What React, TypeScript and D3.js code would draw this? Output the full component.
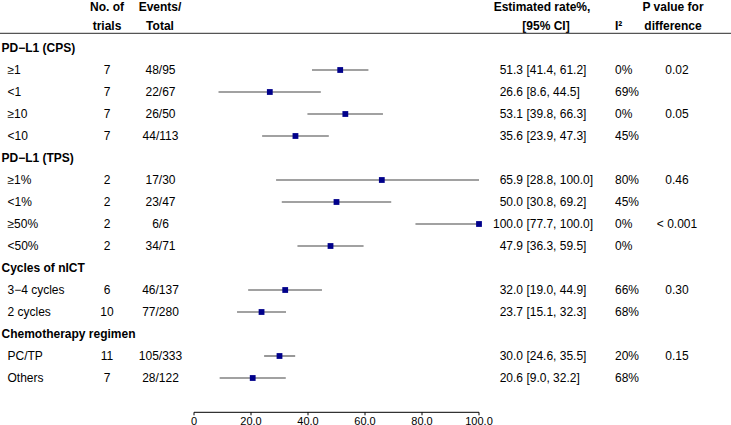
import React from "react";
import * as d3 from "d3";

// ---- data ----
const labels = [
  "PD−L1 (CPS)", "≥1", "<1", "≥10", "<10",
  "PD−L1 (TPS)", "≥1%", "<1%", "≥50%", "<50%",
  "Cycles of nICT", "3−4 cycles", "2 cycles",
  "Chemotherapy regimen", "PC/TP", "Others",
];
const isGroup = [true, false, false, false, false, true, false, false, false, false, true, false, false, true, false, false];
const trials: (number | null)[] = [null, 7, 7, 7, 7, null, 2, 2, 2, 2, null, 6, 10, null, 11, 7];
const events = ["", "48/95", "22/67", "26/50", "44/113", "", "17/30", "23/47", "6/6", "34/71", "", "46/137", "77/280", "", "105/333", "28/122"];
const estimate: (number | null)[] = [null, 51.3, 26.6, 53.1, 35.6, null, 65.9, 50.0, 100.0, 47.9, null, 32.0, 23.7, null, 30.0, 20.6];
const lower: (number | null)[] = [null, 41.4, 8.6, 39.8, 23.9, null, 28.8, 30.8, 77.7, 36.3, null, 19.0, 15.1, null, 24.6, 9.0];
const upper: (number | null)[] = [null, 61.2, 44.5, 66.3, 47.3, null, 100.0, 69.2, 100.0, 59.5, null, 44.9, 32.3, null, 35.5, 32.2];
const i2 = ["", "0%", "69%", "0%", "45%", "", "80%", "45%", "0%", "0%", "", "66%", "68%", "", "20%", "68%"];
const pDiff = ["", "0.02", "", "0.05", "", "", "0.46", "", "< 0.001", "", "", "0.30", "", "", "0.15", ""];
const axisTicks = [0, 20, 40, 60, 80, 100];

const W = 731;
const H = 425;
const FONT = "'Liberation Sans', Arial, Helvetica, sans-serif";

export default function App() {
  const x = d3.scaleLinear().domain([0, 100]).range([194, 479]);
  const idx = labels.map((_, i) => i);
  const y = d3.scalePoint<number>().domain(idx).range([48, 48 + 22 * (labels.length - 1)]);
  const axisY = 412.3;
  const fs = 12;
  const h1 = 6.5;
  const h2 = 26;

  return (
    <svg
      width={W}
      height={H}
      style={{ position: "absolute", left: 0, top: 0, background: "#fff" }}
      fontFamily={FONT}
      fontSize={fs}
    >
      <rect x={0} y={0} width={W} height={H} fill="#fff" />
      {/* header */}
      <g fontWeight="bold" fill="#000">
        <text x={107} y={h1} dy="0.35em" textAnchor="middle">No. of</text>
        <text x={107} y={h2} dy="0.35em" textAnchor="middle">trials</text>
        <text x={160} y={h1} dy="0.35em" textAnchor="middle">Events/</text>
        <text x={160} y={h2} dy="0.35em" textAnchor="middle">Total</text>
        <text x={542} y={h1} dy="0.35em" textAnchor="middle">Estimated rate%,</text>
        <text x={546} y={h2} dy="0.35em" textAnchor="middle">[95% CI]</text>
        <text x={615} y={h2} dy="0.35em" textAnchor="start">I²</text>
        <text x={673} y={h1} dy="0.35em" textAnchor="middle">P value for</text>
        <text x={673} y={h2} dy="0.35em" textAnchor="middle">difference</text>
      </g>
      <line x1={0} x2={W} y1={33.3} y2={33.3} stroke="#555" strokeWidth={1.3} />

      {/* rows */}
      {idx.map((i) => {
        const yy = y(i) as number;
        if (isGroup[i]) {
          return (
            <text key={i} x={1.5} y={yy} dy="0.35em" fontWeight="bold">{labels[i]}</text>
          );
        }
        const est = estimate[i] as number;
        const lo = lower[i] as number;
        const hi = upper[i] as number;
        return (
          <g key={i}>
            <text x={7.5} y={yy} dy="0.35em">{labels[i]}</text>
            <text x={107} y={yy} dy="0.35em" textAnchor="middle">{trials[i]}</text>
            <text x={160.5} y={yy} dy="0.35em" textAnchor="middle">{events[i]}</text>
            <line x1={x(lo)} x2={x(hi)} y1={yy} y2={yy} stroke="#444" strokeWidth={1.1} />
            <rect x={x(est) - 2.9} y={yy - 2.9} width={5.8} height={5.8} fill="#00008B" />
            <text y={yy} dy="0.35em">
              <tspan x={523} textAnchor="end">{est.toFixed(1)}</tspan>
              <tspan x={526.4} textAnchor="start">{`[${lo.toFixed(1)}, ${hi.toFixed(1)}]`}</tspan>
            </text>
            <text x={615} y={yy} dy="0.35em">{i2[i]}</text>
            {pDiff[i] ? (
              <text x={677} y={yy} dy="0.35em" textAnchor="middle">{pDiff[i]}</text>
            ) : null}
          </g>
        );
      })}

      {/* axis */}
      <g>
        <line x1={x(0)} x2={x(100)} y1={axisY} y2={axisY} stroke="#000" strokeWidth={1} />
        {axisTicks.map((t) => (
          <g key={t}>
            <line x1={x(t)} x2={x(t)} y1={axisY} y2={axisY + 3} stroke="#000" strokeWidth={1} />
            <text x={x(t)} y={424.5} textAnchor="middle" fontSize={11}>
              {t === 0 ? "0" : t.toFixed(1)}
            </text>
          </g>
        ))}
      </g>
    </svg>
  );
}
